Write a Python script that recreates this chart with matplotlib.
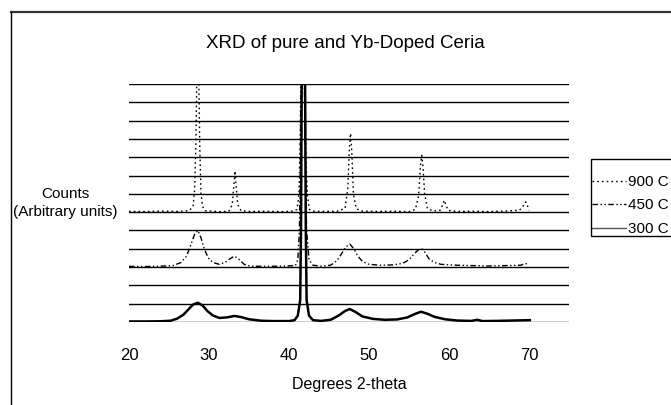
import matplotlib
matplotlib.use("Agg")
import matplotlib.pyplot as plt
from matplotlib.lines import Line2D
from matplotlib.patches import Rectangle

# === DATA (stacked as shown) ===
x900 = [20, 22, 24, 26, 27.5, 28.0, 28.2, 28.35, 28.5, 28.7, 28.85, 29.0, 29.2, 29.5,
        30.5, 31.5, 32.5, 32.9, 33.1, 33.25, 33.4, 33.6, 34.0,
        35, 37, 39, 40.6, 41.0, 41.25, 41.4, 41.5, 41.75, 42.0, 42.1, 42.3, 42.55, 42.9,
        44, 46, 47.0, 47.35, 47.55, 47.7, 47.85, 48.05, 48.4, 49,
        51, 53, 55, 55.8, 56.2, 56.45, 56.6, 56.75, 56.95, 57.3,
        58, 58.9, 59.2, 59.4, 59.6, 59.9,
        61, 63, 65, 67, 68.8, 69.3, 69.6, 69.85, 70.0]
y900 = [6.05, 6.03, 6.06, 6.04, 6.08, 6.3, 7.2, 9.5, 14.0, 14.0, 9.5, 7.0, 6.3, 6.08,
        6.05, 6.03, 6.06, 6.4, 7.4, 8.25, 7.4, 6.4, 6.08,
        6.04, 6.05, 6.03, 6.06, 6.15, 7.0, 10.0, 14.0, 14.0, 14.0, 9.0, 6.9, 6.15, 6.06,
        6.04, 6.05, 6.2, 7.3, 9.5, 10.3, 9.3, 7.0, 6.2, 6.06,
        6.04, 6.05, 6.03, 6.15, 6.9, 8.6, 9.1, 8.5, 7.0, 6.2,
        6.06, 6.1, 6.4, 6.65, 6.4, 6.1,
        6.04, 6.05, 6.03, 6.06, 6.1, 6.35, 6.56, 6.3, 6.1]

x450 = [20, 22, 24, 25.5, 26.5, 27.2, 27.8, 28.2, 28.6, 29.0,
        29.4, 29.9, 30.5, 31.3, 32.0, 32.6, 33.2, 33.8, 34.4, 35.2,
        37, 39, 40.8, 41.1, 41.3, 41.42, 41.5, 41.9, 42.05, 42.2,
        42.5, 43, 44, 45.2, 46.0, 46.6, 47.1, 47.6, 48.1, 48.6,
        49.2, 50, 51.5, 53, 54.2, 55.0, 55.7, 56.2, 56.6, 57.0,
        57.5, 58.2, 59, 61, 63, 65, 67, 69.0, 69.5, 69.9]
y450 = [3.04, 3.03, 3.05, 3.08, 3.25, 3.6, 4.3, 4.8, 5.0, 4.6,
        4.0, 3.5, 3.25, 3.15, 3.25, 3.45, 3.6, 3.4, 3.15, 3.05,
        3.04, 3.05, 3.08, 3.4, 5.0, 9.0, 14.0, 14.0, 9.0, 5.0,
        3.4, 3.1, 3.05, 3.1, 3.35, 3.75, 4.1, 4.26, 4.0, 3.6,
        3.3, 3.15, 3.1, 3.12, 3.2, 3.4, 3.75, 3.95, 4.0, 3.8,
        3.45, 3.25, 3.15, 3.1, 3.08, 3.06, 3.08, 3.1, 3.2, 3.15]

x300 = [20, 22, 24, 25.2, 26.0, 26.8, 27.5, 28.0, 28.6, 29.2,
        29.8, 30.5, 31.3, 32.2, 33.2, 34.0, 35.0, 36.5, 38, 40.0,
        40.7, 41.1, 41.4, 41.5, 41.6, 42.0, 42.1, 42.2, 42.5, 43.0,
        44, 45.2, 46.2, 47.0, 47.6, 48.3, 49.2, 50.5, 52, 53.5,
        54.8, 55.8, 56.5, 57.3, 58.2, 59.5, 61, 62.8, 63.5, 64.2,
        66, 68, 70.1]
y300 = [0.03, 0.03, 0.04, 0.07, 0.18, 0.4, 0.72, 0.95, 1.05, 0.9,
        0.6, 0.35, 0.22, 0.25, 0.33, 0.27, 0.15, 0.07, 0.05, 0.05,
        0.1, 0.35, 1.2, 5.0, 14.0, 14.0, 5.0, 1.2, 0.35, 0.1,
        0.06, 0.12, 0.35, 0.6, 0.71, 0.55, 0.3, 0.17, 0.12, 0.14,
        0.25, 0.45, 0.56, 0.45, 0.28, 0.15, 0.08, 0.06, 0.12, 0.05,
        0.06, 0.08, 0.1]

series_labels = ['900 C', '450 C', '300 C']
x_ticks = [20, 30, 40, 50, 60, 70]

# === STYLE ===
plt.rcParams['font.family'] = ['Liberation Sans', 'DejaVu Sans']
W, H = 671, 405
fig = plt.figure(figsize=(W / 100, H / 100), dpi=100)
fig.patch.set_facecolor('white')

# axes box in pixels: x 129..569, y 84..322
ax = fig.add_axes([129 / W, 1 - 322 / H, 440 / W, 238 / H])
ax.set_xlim(20, 75)
ax.set_ylim(0, 13)

style900 = dict(color='black', lw=1.0, dashes=(1.2, 2.2))
style450 = dict(color='black', lw=1.0, dashes=(4, 1.8, 1, 1.8, 1, 1.8))

ax.plot(x900, y900, **style900, zorder=3)
ax.plot(x450, y450, **style450, zorder=3)
ax.plot(x300, y300, color='black', lw=1.8, zorder=4)

# horizontal gridlines, no axis lines
ax.set_yticks(range(0, 14))
ax.yaxis.grid(True, lw=1.0)
for t in ax.yaxis.get_major_ticks():
    t.gridline.set_color('#808080' if t.get_loc() >= 9 else 'black')
ax.tick_params(axis='y', length=0, labelleft=False)
ax.set_xticks(x_ticks)
ax.tick_params(axis='x', length=0, pad=19, labelsize=12)
for s in ax.spines.values():
    s.set_visible(False)
ax.set_axisbelow(True)

ax.set_xlabel('Degrees 2-theta', fontsize=11.5, labelpad=10)
ax.set_ylabel('Counts\n(Arbitrary units)', fontsize=11, rotation=0,
              ha='center', va='center', linespacing=1.35)
ax.yaxis.set_label_coords((65 - 129) / 440, (322 - 203) / 238)

fig.text(345 / W, 1 - 44 / H, 'XRD of pure and Yb-Doped Ceria',
         fontsize=13.5, ha='center', va='center')

# legend (box runs off the right edge as in the reference)
handles = [Line2D([], [], **style900),
           Line2D([], [], **style450),
           Line2D([], [], color='#555555', lw=1.0)]
leg = ax.legend(handles, series_labels, loc='upper left',
                bbox_to_anchor=(592 / W, 1 - 175 / H), bbox_transform=fig.transFigure,
                frameon=False, fontsize=11, handlelength=2.25, handletextpad=0.12,
                labelspacing=0.62, borderpad=0, borderaxespad=0)
fig.add_artist(Rectangle((591 / W, 1 - 236 / H), 120 / W, 77 / H,
                         transform=fig.transFigure, fill=False, ec='black', lw=1.0))

# outer chart-area border (runs off right and bottom)
fig.add_artist(Line2D([10.5 / W, 1.0], [1 - 12 / H, 1 - 12 / H],
                      transform=fig.transFigure, color='#333333', lw=1.6))
fig.add_artist(Line2D([10.5 / W, 10.5 / W], [0, 1 - 12 / H],
                      transform=fig.transFigure, color='black', lw=1.0))

fig.savefig('out.png', dpi=100)
